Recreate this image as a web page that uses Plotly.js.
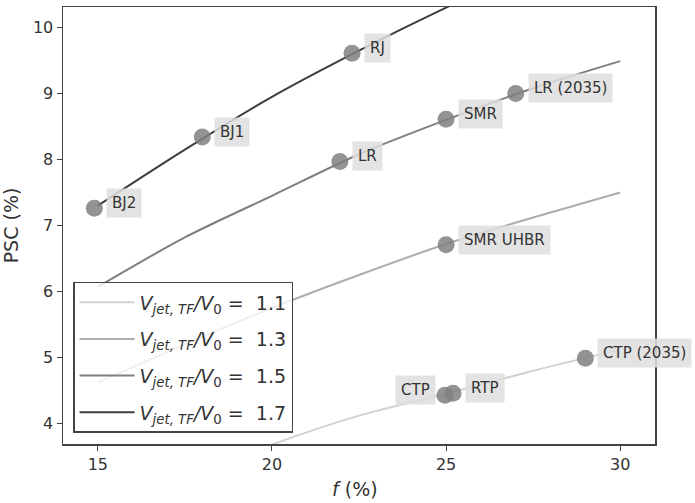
<!DOCTYPE html>
<html>
<head>
<meta charset="utf-8">
<script src="https://cdn.plot.ly/plotly-3.0.1.min.js"></script>
<style>html,body{margin:0;padding:0;background:#fff;}#chart{width:695px;height:503px;}</style>
</head>
<body>
<div id="chart"></div>
<script>
// Curves: PSC (%) vs f (%) for each jet velocity ratio
var fGrid = [15, 17.5, 20, 22.5, 25, 27.5, 30];
var psc11 = [2.55, 3.15, 3.68, 4.12, 4.45, 4.80, 5.12];
var psc13 = [4.62, 5.20, 5.75, 6.25, 6.72, 7.12, 7.50];
var psc15 = [6.07, 6.82, 7.45, 8.08, 8.60, 9.08, 9.49];
var psc17 = [7.30, 8.15, 8.95, 9.65, 10.30, 10.90, 11.45];
var ratios = ['1.1', '1.3', '1.5', '1.7'];

// Engine concepts
var ptNames = ['BJ2', 'BJ1', 'RJ', 'LR', 'SMR', 'LR (2035)', 'SMR UHBR', 'CTP', 'RTP', 'CTP (2035)'];
var ptF     = [14.9, 18.0, 22.3, 21.95, 25.0, 27.0, 25.0, 24.97, 25.2, 29.0];
var ptPSC   = [7.26, 8.34, 9.61, 7.97, 8.61, 9.0, 6.71, 4.43, 4.46, 4.99];

var curves = [psc11, psc13, psc15, psc17];
var colors = ['#d2d2d2', '#adadad', '#7f7f7f', '#3d3d3d'];

var traces = curves.map(function (ys, i) {
  return {
    x: fGrid, y: ys, type: 'scatter', mode: 'lines',
    line: {color: colors[i], width: 2, shape: 'spline', smoothing: 0.8},
    name: '<i>V</i><sub><i>jet, TF</i></sub><i>/V</i><sub>0</sub> =  ' + ratios[i],
    legendgroup: 'g' + i
  };
});
traces.push({
  x: ptF, y: ptPSC, type: 'scatter', mode: 'markers',
  marker: {size: 17, color: 'rgba(128,128,128,0.85)', line: {width: 0}},
  showlegend: false, hoverinfo: 'skip'
});

var annotations = ptNames.map(function (n, i) {
  var left = (n !== 'CTP');
  return {
    x: ptF[i], y: ptPSC[i], xref: 'x', yref: 'y', text: n, showarrow: false,
    xanchor: left ? 'left' : 'right', yanchor: 'middle',
    xshift: left ? 12 : -9, yshift: 5,
    font: {family: 'DejaVu Sans', size: 15, color: '#333'},
    bgcolor: 'rgba(222,222,222,0.85)', borderpad: 5
  };
});
annotations.push({
  xref: 'paper', yref: 'paper', x: 0.493, y: -0.104, yanchor: 'middle', xanchor: 'center',
  showarrow: false, text: '<i>f</i> (%)', font: {family: 'DejaVu Sans', size: 19, color: '#333'}
});

var layout = {
  width: 695, height: 503,
  margin: {l: 63, r: 40, t: 7, b: 59},
  paper_bgcolor: '#fff', plot_bgcolor: '#fff',
  font: {family: 'DejaVu Sans', color: '#333'},
  showlegend: true,
  legend: {
    x: 0.017, y: 0.371, xanchor: 'left', yanchor: 'top',
    bgcolor: 'rgba(255,255,255,0.8)', bordercolor: '#444', borderwidth: 1.5,
    font: {family: 'DejaVu Sans', size: 19, color: '#333'},
    tracegroupgap: 9, traceorder: 'grouped', itemwidth: 55
  },
  xaxis: {
    range: [14, 31], tickvals: [15, 20, 25, 30], ticktext: ['15', '20', '25', '30'],
    showgrid: false, zeroline: false, showline: true, mirror: true,
    linecolor: '#444', linewidth: 1.5, ticks: 'outside', ticklen: 5, tickcolor: '#444',
    tickfont: {family: 'DejaVu Sans', size: 16, color: '#333'}
  },
  yaxis: {
    range: [3.69, 10.31], tickvals: [4, 5, 6, 7, 8, 9, 10],
    showgrid: false, zeroline: false, showline: true, mirror: true,
    linecolor: '#444', linewidth: 1.5, ticks: 'outside', ticklen: 5, tickcolor: '#444',
    tickfont: {family: 'DejaVu Sans', size: 16, color: '#333'},
    title: {text: 'PSC (%)', font: {family: 'DejaVu Sans', size: 19, color: '#333'}, standoff: 10}
  },
  annotations: annotations
};

Plotly.newPlot('chart', traces, layout, {staticPlot: true, displayModeBar: false});
</script>
</body>
</html>
